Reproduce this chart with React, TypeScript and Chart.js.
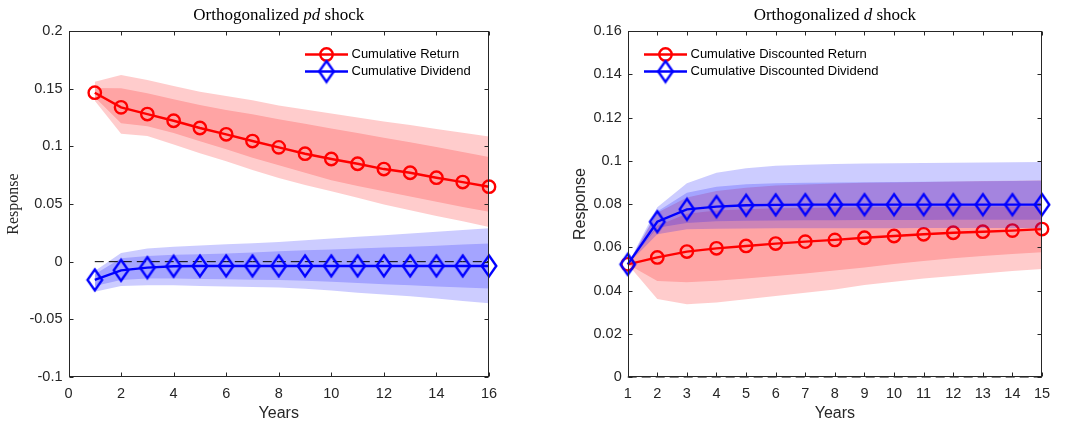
import React, { useEffect, useRef } from "react";
import { Chart, registerables } from "chart.js";
Chart.register(...registerables);

// ---------- data ----------
const leftYears = [1, 2, 3, 4, 5, 6, 7, 8, 9, 10, 11, 12, 13, 14, 15, 16];
const leftReturn = [0.1465, 0.1338, 0.128, 0.1222, 0.1159, 0.1104, 0.1046, 0.0991, 0.0936, 0.089, 0.0849, 0.0803, 0.0771, 0.0728, 0.069, 0.065];
const leftReturnOuterUp = [0.156, 0.1618, 0.1575, 0.1523, 0.1474, 0.1436, 0.14, 0.1355, 0.132, 0.1285, 0.125, 0.1215, 0.1185, 0.115, 0.1118, 0.1085];
const leftReturnInnerUp = [0.1505, 0.1503, 0.146, 0.1408, 0.1358, 0.1315, 0.1278, 0.1234, 0.1195, 0.1155, 0.1115, 0.1075, 0.1035, 0.0995, 0.095, 0.0908];
const leftReturnInnerLow = [0.1425, 0.12, 0.1175, 0.1115, 0.1045, 0.0975, 0.09, 0.0835, 0.077, 0.0705, 0.0655, 0.061, 0.0565, 0.052, 0.0475, 0.0433];
const leftReturnOuterLow = [0.1395, 0.111, 0.109, 0.1015, 0.094, 0.087, 0.0795, 0.0725, 0.0665, 0.061, 0.0555, 0.0495, 0.0445, 0.0395, 0.035, 0.03];
const leftDividend = [-0.0158, -0.0075, -0.0052, -0.004, -0.0038, -0.0037, -0.0037, -0.0037, -0.0037, -0.0037, -0.0037, -0.0037, -0.0037, -0.0037, -0.0037, -0.0037];
const leftDividendOuterUp = [-0.008, 0.0075, 0.0115, 0.013, 0.014, 0.015, 0.016, 0.017, 0.0185, 0.02, 0.0215, 0.023, 0.0245, 0.026, 0.0275, 0.029];
const leftDividendInnerUp = [-0.011, 0.003, 0.005, 0.006, 0.0065, 0.007, 0.008, 0.009, 0.0098, 0.0106, 0.0114, 0.0122, 0.013, 0.0138, 0.0148, 0.0158];
const leftDividendInnerLow = [-0.021, -0.016, -0.0145, -0.0145, -0.015, -0.0153, -0.0157, -0.016, -0.0166, -0.0175, -0.0185, -0.0195, -0.0205, -0.0215, -0.0225, -0.0232];
const leftDividendOuterLow = [-0.026, -0.021, -0.0205, -0.0205, -0.021, -0.0215, -0.022, -0.0225, -0.0235, -0.025, -0.027, -0.0285, -0.03, -0.032, -0.034, -0.036];
const leftZero = [0, 0, 0, 0, 0, 0, 0, 0, 0, 0, 0, 0, 0, 0, 0, 0];

const rightYears = [1, 2, 3, 4, 5, 6, 7, 8, 9, 10, 11, 12, 13, 14, 15];
const rightReturn = [0.0521, 0.0553, 0.058, 0.0595, 0.0606, 0.0617, 0.0626, 0.0634, 0.0644, 0.0652, 0.066, 0.0667, 0.0672, 0.0677, 0.0684];
const rightReturnOuterUp = [0.0521, 0.076, 0.083, 0.086, 0.0875, 0.0885, 0.089, 0.0895, 0.0898, 0.09, 0.0902, 0.0904, 0.0906, 0.0908, 0.091];
const rightReturnInnerUp = [0.0521, 0.07, 0.0755, 0.077, 0.0776, 0.078, 0.0782, 0.0784, 0.0785, 0.0786, 0.0787, 0.0788, 0.0789, 0.0789, 0.079];
const rightReturnInnerLow = [0.0521, 0.0444, 0.0438, 0.0445, 0.0456, 0.0467, 0.0479, 0.0492, 0.0506, 0.0523, 0.0536, 0.0549, 0.056, 0.0569, 0.0577];
const rightReturnOuterLow = [0.0521, 0.0361, 0.0336, 0.0345, 0.0359, 0.0375, 0.039, 0.0405, 0.0425, 0.0441, 0.0456, 0.0467, 0.0479, 0.049, 0.0499];
const rightDividend = [0.0521, 0.0718, 0.0775, 0.0788, 0.0794, 0.0796, 0.0797, 0.0797, 0.0797, 0.0797, 0.0797, 0.0797, 0.0797, 0.0797, 0.0797];
const rightDividendOuterUp = [0.0521, 0.0785, 0.0896, 0.0945, 0.0965, 0.0977, 0.0982, 0.0985, 0.0987, 0.0989, 0.099, 0.0991, 0.0992, 0.0993, 0.0994];
const rightDividendInnerUp = [0.0521, 0.0765, 0.0852, 0.088, 0.0891, 0.0896, 0.0898, 0.09, 0.0901, 0.0902, 0.0903, 0.0904, 0.0905, 0.0906, 0.0907];
const rightDividendInnerLow = [0.0521, 0.069, 0.0712, 0.072, 0.0723, 0.0724, 0.0725, 0.0725, 0.0726, 0.0726, 0.0726, 0.0727, 0.0727, 0.0727, 0.0727];
const rightDividendOuterLow = [0.0521, 0.066, 0.0683, 0.0686, 0.0687, 0.0688, 0.0688, 0.0688, 0.0688, 0.0688, 0.0689, 0.0689, 0.0689, 0.0689, 0.0689];
const rightZero = [0, 0, 0, 0, 0, 0, 0, 0, 0, 0, 0, 0, 0, 0, 0];

const leftXTicks = [0, 2, 4, 6, 8, 10, 12, 14, 16];
const leftXTickLabels = ["0", "2", "4", "6", "8", "10", "12", "14", "16"];
const leftYTicks = [-0.1, -0.05, 0, 0.05, 0.1, 0.15, 0.2];
const leftYTickLabels = ["-0.1", "-0.05", "0", "0.05", "0.1", "0.15", "0.2"];
const rightXTicks = [1, 2, 3, 4, 5, 6, 7, 8, 9, 10, 11, 12, 13, 14, 15];
const rightXTickLabels = ["1", "2", "3", "4", "5", "6", "7", "8", "9", "10", "11", "12", "13", "14", "15"];
const rightYTicks = [0, 0.02, 0.04, 0.06, 0.08, 0.1, 0.12, 0.14, 0.16];
const rightYTickLabels = ["0", "0.02", "0.04", "0.06", "0.08", "0.1", "0.12", "0.14", "0.16"];

const leftLegend = ["Cumulative Return", "Cumulative Dividend"];
const rightLegend = ["Cumulative Discounted Return", "Cumulative Discounted Dividend"];

// ---------- styling ----------
const RED = "#ff0000";
const BLUE = "#0000ff";
const RED_BAND = "rgba(255,0,0,0.2)";
const BLUE_BAND = "rgba(0,0,255,0.2)";
const AXIS = "#262626";
const SANS = "'Liberation Sans', Arial, sans-serif";
const SERIF = "'Liberation Serif', 'Times New Roman', serif";
const LW = 2.4;

function makeDiamond(): HTMLCanvasElement {
  const c = document.createElement("canvas");
  c.width = 20;
  c.height = 26;
  const g = c.getContext("2d")!;
  g.strokeStyle = BLUE;
  g.lineWidth = LW;
  g.lineJoin = "miter";
  g.beginPath();
  g.moveTo(10, 2.5);
  g.lineTo(17.3, 13);
  g.lineTo(10, 23.5);
  g.lineTo(2.7, 13);
  g.closePath();
  g.stroke();
  return c;
}

type PanelCfg = {
  years: number[];
  ret: number[]; retOU: number[]; retIU: number[]; retIL: number[]; retOL: number[];
  div: number[]; divOU: number[]; divIU: number[]; divIL: number[]; divOL: number[];
  zero: number[];
  xTicks: number[]; xLabels: string[]; yTicks: number[]; yLabels: string[];
  xMin: number; xMax: number; yMin: number; yMax: number;
  legend: string[]; legendX: number;
  titlePre: string; titleIt: string; titlePost: string;
  yTitleFont: string; yTitleX: number;
  yWidth: number; padRight: number;
};

function pts(xs: number[], ys: number[]) {
  return xs.map((x, i) => ({ x, y: ys[i] }));
}

function buildChart(canvas: HTMLCanvasElement, p: PanelCfg) {
  const diamond = makeDiamond();
  const helper = (ys: number[], order: number) => ({
    data: pts(p.years, ys), borderWidth: 0, borderColor: "rgba(0,0,0,0)", pointRadius: 0, fill: false, order, clip: false as any,
  });
  const band = (ys: number[], target: number, color: string, order: number) => ({
    data: pts(p.years, ys), borderWidth: 0, borderColor: "rgba(0,0,0,0)", pointRadius: 0,
    fill: { target, above: color, below: color }, backgroundColor: color, order, clip: false as any,
  });
  const datasets: any[] = [
    helper(p.retOL, 100), // 0
    band(p.retOU, 0, RED_BAND, 99), // 1
    helper(p.retIL, 98), // 2
    band(p.retIU, 2, RED_BAND, 97), // 3
    { data: pts(p.years, p.ret), borderColor: RED, borderWidth: LW, pointStyle: "circle", pointRadius: 6.2, pointBorderWidth: LW, pointBorderColor: RED, pointBackgroundColor: "rgba(0,0,0,0)", fill: false, order: 96, clip: false }, // 4
    helper(p.divOL, 95), // 5
    band(p.divOU, 5, BLUE_BAND, 94), // 6
    helper(p.divIL, 93), // 7
    band(p.divIU, 7, BLUE_BAND, 92), // 8
    { data: pts(p.years, p.zero), borderColor: "#000", borderWidth: 1, borderDash: [9, 5], pointRadius: 0, fill: false, order: 91, clip: false }, // 9
    { data: pts(p.years, p.div), borderColor: BLUE, borderWidth: LW, pointStyle: diamond, pointRadius: 8, pointBorderWidth: 0, fill: false, order: 90, clip: false }, // 10
  ];

  const decor = {
    id: "decor",
    afterDatasetsDraw(chart: any) {
      const { ctx, chartArea: a, scales } = chart;
      ctx.save();
      const L = Math.round(a.left) + 0.5, R = Math.round(a.right) - 0.5;
      const T = Math.round(a.top) + 0.5, B = Math.round(a.bottom) - 0.5;
      ctx.strokeStyle = AXIS;
      ctx.lineWidth = 1;
      ctx.setLineDash([]);
      ctx.strokeRect(L, T, R - L, B - T);
      ctx.beginPath();
      p.xTicks.forEach((v) => {
        const x = Math.round(scales.x.getPixelForValue(v)) + 0.5;
        ctx.moveTo(x, B); ctx.lineTo(x, B - 4);
        ctx.moveTo(x, T); ctx.lineTo(x, T + 4);
      });
      p.yTicks.forEach((v) => {
        const y = Math.round(scales.y.getPixelForValue(v)) + 0.5;
        ctx.moveTo(L, y); ctx.lineTo(L + 4, y);
        ctx.moveTo(R, y); ctx.lineTo(R - 4, y);
      });
      ctx.stroke();

      // title with italic part
      const cx = (a.left + a.right) / 2;
      const fN = `17px ${SERIF}`, fI = `italic 17px ${SERIF}`;
      ctx.fillStyle = "#000";
      ctx.textBaseline = "middle";
      ctx.font = fN; const w1 = ctx.measureText(p.titlePre).width; const w3 = ctx.measureText(p.titlePost).width;
      ctx.font = fI; const w2 = ctx.measureText(p.titleIt).width;
      let tx = cx - (w1 + w2 + w3) / 2;
      ctx.textAlign = "left";
      ctx.font = fN; ctx.fillText(p.titlePre, tx, 16); tx += w1;
      ctx.font = fI; ctx.fillText(p.titleIt, tx, 16); tx += w2;
      ctx.font = fN; ctx.fillText(p.titlePost, tx, 16);

      // axis titles
      ctx.fillStyle = AXIS;
      ctx.textAlign = "center";
      ctx.font = `16px ${SANS}`;
      ctx.fillText("Years", cx, 414);
      ctx.save();
      ctx.translate(p.yTitleX, (a.top + a.bottom) / 2);
      ctx.rotate(-Math.PI / 2);
      ctx.font = p.yTitleFont;
      ctx.fillText("Response", 0, 0);
      ctx.restore();

      // legend
      const items = [
        { label: p.legend[0], color: RED, y: 54.5, marker: "circle" },
        { label: p.legend[1], color: BLUE, y: 71.5, marker: "diamond" },
      ];
      items.forEach((it) => {
        const x0 = p.legendX, x1 = p.legendX + 43, mx = (x0 + x1) / 2;
        ctx.strokeStyle = it.color; ctx.lineWidth = LW;
        ctx.beginPath(); ctx.moveTo(x0, it.y); ctx.lineTo(x1, it.y); ctx.stroke();
        if (it.marker === "circle") {
          ctx.beginPath(); ctx.arc(mx, it.y, 6.2, 0, Math.PI * 2); ctx.stroke();
        } else {
          ctx.drawImage(diamond, mx - diamond.width / 2, it.y - diamond.height / 2);
        }
        ctx.fillStyle = "#000";
        ctx.font = `13px ${SANS}`;
        ctx.textAlign = "left";
        ctx.textBaseline = "middle";
        ctx.fillText(it.label, x1 + 3.5, it.y);
      });
      ctx.restore();
    },
  };

  return new Chart(canvas, {
    type: "line",
    data: { datasets },
    plugins: [decor],
    options: {
      animation: false,
      responsive: false,
      events: [],
      layout: { padding: { left: 0, right: p.padRight, top: 31, bottom: 0 } },
      plugins: {
        legend: { display: false },
        tooltip: { enabled: false },
        title: { display: false },
        filler: { propagate: false, drawTime: "beforeDatasetDraw" } as any,
      },
      scales: {
        x: {
          type: "linear", min: p.xMin, max: p.xMax,
          grid: { display: false, drawTicks: false },
          border: { display: false },
          ticks: {
            color: AXIS, font: { family: SANS, size: 14.5 }, padding: 8.5, maxRotation: 0, autoSkip: false,
            callback: (v: any) => { const i = p.xTicks.indexOf(Number(v)); return i >= 0 ? p.xLabels[i] : ""; },
          },
          afterBuildTicks: (s: any) => { s.ticks = p.xTicks.map((v) => ({ value: v })); },
          afterFit: (s: any) => { s.height = 45; },
        },
        y: {
          type: "linear", min: p.yMin, max: p.yMax,
          grid: { display: false, drawTicks: false },
          border: { display: false },
          ticks: {
            color: AXIS, font: { family: SANS, size: 14.5 }, padding: 6, autoSkip: false,
            callback: (v: any) => { const i = p.yTicks.findIndex((t) => Math.abs(t - Number(v)) < 1e-9); return i >= 0 ? p.yLabels[i] : ""; },
          },
          afterBuildTicks: (s: any) => { s.ticks = p.yTicks.map((v) => ({ value: v })); },
          afterFit: (s: any) => { s.width = p.yWidth; },
        },
      },
    } as any,
  });
}

const leftCfg: PanelCfg = {
  years: leftYears,
  ret: leftReturn, retOU: leftReturnOuterUp, retIU: leftReturnInnerUp, retIL: leftReturnInnerLow, retOL: leftReturnOuterLow,
  div: leftDividend, divOU: leftDividendOuterUp, divIU: leftDividendInnerUp, divIL: leftDividendInnerLow, divOL: leftDividendOuterLow,
  zero: leftZero,
  xTicks: leftXTicks, xLabels: leftXTickLabels, yTicks: leftYTicks, yLabels: leftYTickLabels,
  xMin: 0, xMax: 16, yMin: -0.1, yMax: 0.2,
  legend: leftLegend, legendX: 305,
  titlePre: "Orthogonalized ", titleIt: "pd", titlePost: " shock",
  yTitleFont: `16px ${SERIF}`, yTitleX: 14,
  yWidth: 68.5, padRight: 45,
};

const rightCfg: PanelCfg = {
  years: rightYears,
  ret: rightReturn, retOU: rightReturnOuterUp, retIU: rightReturnInnerUp, retIL: rightReturnInnerLow, retOL: rightReturnOuterLow,
  div: rightDividend, divOU: rightDividendOuterUp, divIU: rightDividendInnerUp, divIL: rightDividendInnerLow, divOL: rightDividendOuterLow,
  zero: rightZero,
  xTicks: rightXTicks, xLabels: rightXTickLabels, yTicks: rightYTicks, yLabels: rightYTickLabels,
  xMin: 1, xMax: 15, yMin: 0, yMax: 0.16,
  legend: rightLegend, legendX: 644 - 534,
  titlePre: "Orthogonalized ", titleIt: "d", titlePost: " shock",
  yTitleFont: `16px ${SANS}`, yTitleX: 581 - 534,
  yWidth: 627.7 - 534, padRight: 26,
};

function Panel({ cfg, left }: { cfg: PanelCfg; left: number }) {
  const ref = useRef<HTMLCanvasElement | null>(null);
  useEffect(() => {
    if (!ref.current) return;
    const chart = buildChart(ref.current, cfg);
    return () => chart.destroy();
  }, [cfg]);
  return (
    <div style={{ position: "absolute", left, top: 0, width: 534, height: 422 }}>
      <canvas ref={ref} width={534} height={422} style={{ width: 534, height: 422, display: "block" }} />
    </div>
  );
}

export default function App() {
  return (
    <div style={{ position: "fixed", left: 0, top: 0, width: 1068, height: 422, background: "#fff", overflow: "hidden" }}>
      <Panel cfg={leftCfg} left={0} />
      <Panel cfg={rightCfg} left={534} />
    </div>
  );
}
